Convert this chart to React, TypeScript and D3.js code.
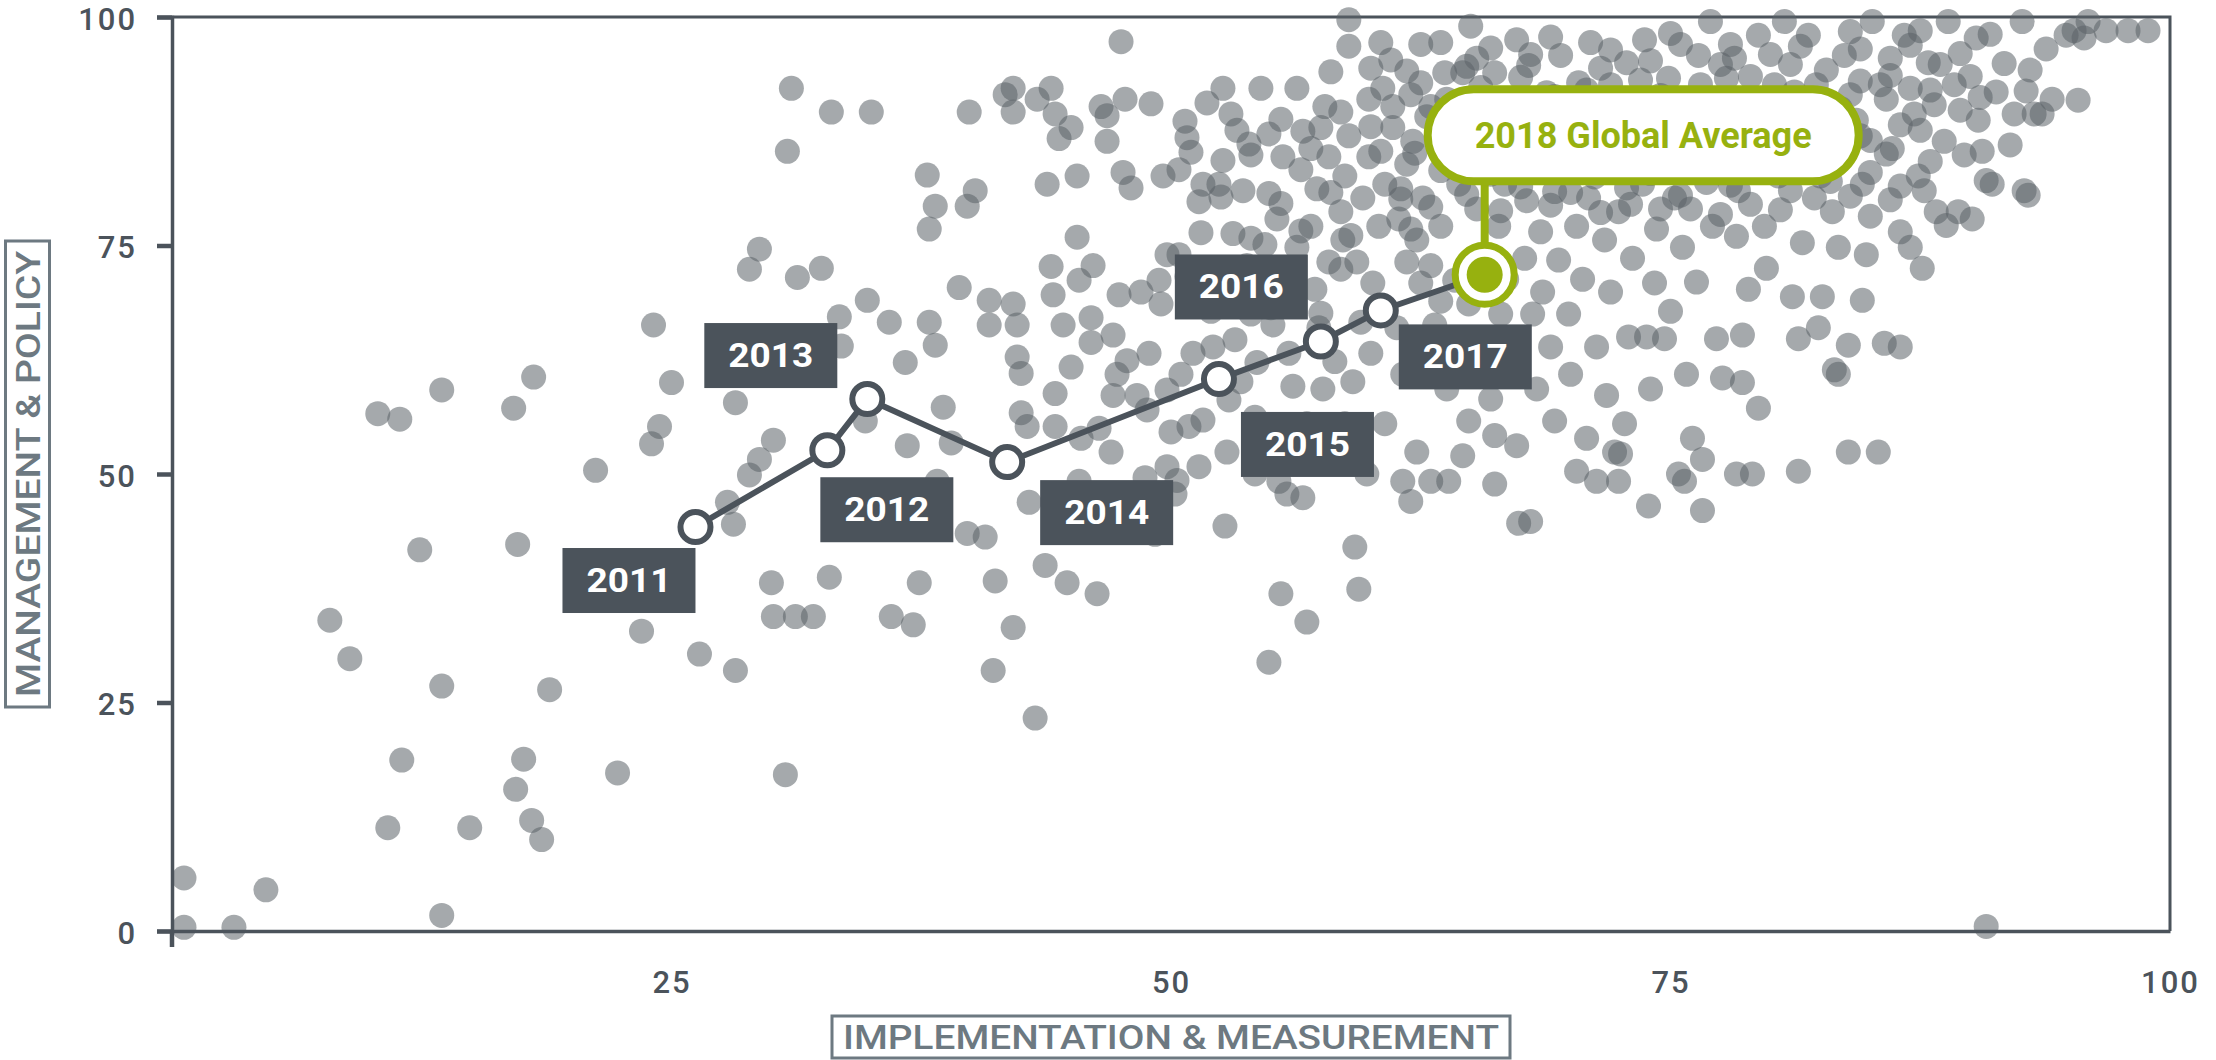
import { useEffect, useRef } from 'react';
import * as d3 from 'd3';

const WIDTH = 2216;
const HEIGHT = 1060;

// [implementation & measurement, management & policy]
const scores: [number, number][] = [
  [0.6, 5.8], [0.6, 0.4], [3.1, 0.4], [4.7, 4.5], [7.9, 34.0], [8.9, 29.8], [10.3, 56.6], [11.4, 56.0],
  [10.8, 11.3], [11.5, 18.7], [12.4, 41.7], [13.5, 59.2], [13.5, 26.8], [13.5, 1.7], [14.9, 11.3],
  [17.1, 57.2], [17.3, 42.3], [17.2, 15.5], [17.6, 18.8], [18.0, 12.1], [18.5, 10.0], [18.1, 60.6],
  [18.9, 26.4], [21.2, 50.4], [22.3, 17.3], [23.5, 32.8], [24.0, 53.3], [24.1, 66.3], [24.4, 55.2],
  [25.0, 60.0], [26.4, 30.3], [27.8, 46.9], [28.1, 44.5], [28.2, 28.5], [28.2, 57.8], [28.9, 72.4],
  [29.4, 74.6], [28.9, 49.9], [29.4, 51.6], [30.0, 38.1], [30.1, 34.4], [30.1, 53.7], [30.7, 17.1],
  [31.0, 92.2], [30.8, 85.3], [31.2, 34.4], [31.3, 71.5], [32.1, 34.4], [32.5, 72.5], [32.9, 38.7],
  [33.0, 89.6], [33.4, 67.2], [33.5, 64.0], [35.0, 89.6], [34.8, 69.0], [34.7, 55.8], [35.9, 66.6],
  [36.0, 34.4], [36.7, 62.2], [36.8, 53.1], [37.1, 33.5], [37.4, 38.1], [37.8, 82.7], [37.9, 76.8],
  [37.9, 66.6], [38.2, 79.3], [38.2, 64.1], [38.3, 49.2], [38.6, 57.3], [39.0, 53.4], [39.4, 70.4],
  [39.8, 79.3], [39.9, 89.6], [40.2, 81.0], [39.8, 43.5], [40.7, 43.1], [40.9, 69.0], [40.9, 66.3],
  [41.1, 28.5], [41.2, 38.3], [41.7, 91.5], [42.1, 92.2], [42.1, 89.6], [42.1, 68.6], [42.3, 66.3],
  [42.3, 62.8], [42.5, 61.0], [42.1, 33.2], [42.5, 56.7], [42.8, 55.2], [42.9, 46.9], [43.2, 23.3],
  [43.3, 91.0], [43.7, 40.0], [43.8, 81.7], [44.0, 92.2], [44.0, 72.7], [44.2, 89.4], [44.1, 69.6],
  [44.2, 55.2], [44.2, 58.8], [44.4, 86.7], [44.6, 66.3], [44.8, 38.1], [45.0, 87.9], [45.0, 61.7],
  [45.3, 82.6], [45.3, 75.9], [45.4, 71.2], [45.4, 49.2], [45.5, 53.9], [46.0, 64.4], [46.0, 67.1],
  [46.1, 72.8], [46.3, 36.9], [46.4, 55.0], [46.5, 90.2], [46.8, 86.4], [46.8, 89.2], [47.1, 58.6],
  [47.0, 52.4], [47.1, 65.2], [47.3, 60.9], [47.4, 69.6], [47.5, 97.3], [47.6, 83.0], [47.7, 91.0],
  [47.8, 62.4], [48.0, 81.3], [48.3, 58.6], [48.5, 69.9], [48.8, 57.0], [48.7, 49.6], [48.9, 63.2],
  [49.2, 43.4], [49.0, 90.5], [49.4, 71.2], [49.5, 68.6], [49.6, 82.6], [49.8, 74.0], [49.8, 59.2],
  [49.8, 50.8], [50.0, 54.6], [50.2, 47.8], [50.3, 49.3], [50.4, 74.0], [50.4, 83.3], [50.5, 60.9],
  [50.7, 88.6], [50.8, 86.8], [50.8, 71.6], [50.9, 55.2], [51.1, 63.2], [51.4, 79.8], [51.4, 50.8],
  [51.6, 55.9], [51.6, 81.7], [51.8, 90.6], [52.0, 67.8], [52.1, 63.9], [52.4, 81.7], [52.6, 92.2],
  [52.6, 84.3], [52.8, 52.4], [52.7, 44.3], [52.9, 58.1], [53.0, 69.6], [53.1, 76.3], [53.2, 64.7],
  [53.3, 87.6], [53.5, 60.1], [53.6, 81.0], [53.8, 72.8], [53.9, 86.1], [54.0, 67.5], [54.2, 56.2],
  [54.2, 50.0], [54.3, 62.2], [54.5, 92.2], [54.7, 75.1], [54.9, 80.7], [54.9, 29.4], [54.9, 87.2],
  [55.1, 66.3], [55.3, 77.9], [55.4, 49.2], [55.5, 36.9], [55.6, 84.7], [55.8, 47.8], [55.8, 70.9],
  [55.9, 63.2], [56.1, 59.6], [56.3, 92.2], [56.3, 74.8], [56.5, 83.3], [56.6, 87.5], [56.6, 47.4],
  [56.8, 33.8], [56.8, 55.5], [57.0, 77.1], [57.2, 70.2], [57.3, 81.2], [57.4, 66.0], [57.5, 87.9],
  [57.6, 59.3], [57.7, 90.2], [57.9, 84.7], [57.9, 73.2], [58.1, 51.3], [58.2, 62.3], [58.5, 78.7],
  [58.6, 75.6], [58.7, 82.6], [58.7, 55.5], [58.9, 99.7], [58.9, 96.8], [58.9, 87.0], [59.1, 60.1],
  [59.2, 42.0], [59.3, 73.2], [59.4, 37.4], [59.5, 66.6], [59.6, 80.2], [59.8, 50.0], [59.9, 84.7],
  [59.9, 91.0], [60.0, 94.4], [60.0, 63.2], [60.1, 70.9], [60.4, 77.1], [60.5, 97.2], [60.6, 92.2],
  [60.7, 81.7], [60.7, 55.5], [61.1, 87.9], [61.1, 90.2], [61.3, 66.0], [61.4, 77.9], [61.6, 49.2],
  [61.6, 60.9], [61.8, 83.9], [61.8, 73.2], [61.8, 94.1], [62.0, 47.0], [62.1, 86.4], [62.3, 75.6],
  [62.3, 52.4], [62.5, 70.9], [62.6, 80.2], [63.0, 90.2], [63.0, 49.2], [63.2, 66.3], [63.5, 77.1],
  [63.7, 93.9], [63.7, 84.7], [63.8, 59.3], [63.9, 49.2], [64.2, 71.2], [64.4, 81.7], [64.6, 93.9],
  [64.9, 68.6], [64.9, 55.8], [65.3, 79.0], [65.3, 95.5], [65.6, 64.4], [66.0, 58.2], [66.2, 93.9],
  [66.2, 48.9], [66.4, 77.1], [66.5, 67.5], [66.7, 81.7], [66.8, 71.3], [66.9, 86.4], [67.1, 61.6],
  [67.3, 53.1], [67.3, 97.5], [67.4, 44.6], [67.7, 73.6], [67.8, 79.9], [67.9, 94.7], [68.1, 67.5],
  [68.3, 59.3], [68.5, 84.4], [68.5, 76.5], [68.6, 69.9], [68.8, 91.7], [69.0, 63.9], [69.2, 55.8],
  [69.2, 80.9], [69.4, 73.4], [69.5, 95.8], [69.8, 86.4], [69.9, 67.5], [70.0, 60.9], [70.3, 77.1],
  [70.3, 50.3], [70.4, 92.8], [70.6, 71.3], [70.8, 53.9], [70.9, 80.2], [71.0, 97.2], [71.1, 88.3],
  [71.3, 49.2], [71.3, 63.9], [71.5, 83.3], [71.7, 75.6], [71.8, 58.6], [72.0, 92.6], [72.0, 69.9],
  [72.2, 52.4], [72.4, 78.7], [72.4, 49.2], [72.6, 86.4], [72.7, 55.5], [72.9, 65.0], [73.1, 73.6],
  [73.2, 90.2], [73.6, 81.7], [73.7, 97.5], [73.8, 65.0], [73.9, 46.5], [74.0, 59.3], [74.2, 70.9],
  [74.3, 76.8], [74.5, 86.4], [74.7, 64.8], [74.9, 93.3], [75.0, 67.8], [75.2, 80.2], [75.4, 50.0],
  [75.6, 74.8], [75.7, 49.2], [75.8, 60.9], [75.9, 88.7], [76.1, 53.9], [76.3, 71.0], [76.4, 95.8],
  [76.6, 51.6], [76.7, 83.3], [77.0, 99.5], [77.1, 77.1], [77.3, 64.8], [77.6, 60.5], [77.7, 87.2],
  [77.8, 93.3], [78.3, 76.0], [78.3, 50.0], [78.4, 81.0], [78.6, 65.2], [78.9, 70.2], [79.1, 50.0],
  [79.3, 86.4], [79.4, 57.2], [79.4, 98.0], [79.7, 77.1], [79.8, 72.5], [80.2, 92.6], [80.4, 82.6],
  [80.7, 99.5], [80.9, 87.2], [81.1, 69.4], [81.4, 64.8], [81.4, 50.3], [81.6, 75.3], [81.9, 98.0],
  [82.2, 80.2], [82.3, 92.6], [82.4, 66.0], [82.6, 69.4], [83.0, 84.9], [83.1, 78.7], [83.4, 60.9],
  [83.4, 74.8], [83.7, 95.8], [83.9, 64.1], [83.9, 52.4], [84.3, 88.7], [84.6, 81.7], [84.8, 74.0],
  [85.1, 99.5], [85.5, 92.6], [85.7, 64.3], [86.1, 85.6], [86.5, 76.5], [86.7, 98.0], [87.0, 74.8],
  [87.2, 89.4], [87.4, 82.6], [87.6, 72.5], [87.7, 81.0], [87.9, 95.0], [88.3, 78.7], [88.7, 86.4],
  [88.9, 99.5], [89.2, 92.6], [89.4, 78.7], [89.7, 84.9], [90.1, 77.9], [90.3, 97.7], [90.4, 88.7],
  [90.8, 0.5], [90.8, 82.1], [91.1, 81.7], [91.3, 91.8], [91.7, 94.9], [92.2, 89.4], [92.6, 99.5],
  [92.7, 81.0], [92.9, 80.5], [93.2, 89.4], [93.6, 89.4], [94.1, 91.0], [94.8, 98.0], [95.2, 98.5],
  [95.4, 90.9], [95.7, 97.7], [95.9, 99.5], [96.8, 98.5], [97.9, 98.5], [98.9, 98.5],
  [68.0, 44.8], [66.2, 54.2], [64.6, 52.0], [72.5, 52.2], [76.6, 46.0], [78.6, 60.0], [83.2, 61.4],
  [86.5, 63.9], [85.4, 52.4], [84.6, 69.0], [88.8, 77.2], [90.6, 85.3], [92.0, 86.0], [66.8, 88.6],
  [68.0, 89.8], [70.0, 91.0], [72.8, 95.0], [75.5, 97.0], [78.2, 95.5], [81.0, 94.8], [84.0, 91.5],
  [86.0, 95.5], [88.0, 92.0], [90.0, 93.5], [76.0, 91.0], [79.0, 90.0], [82.0, 88.0], [85.0, 86.5],
  [74.0, 84.0], [77.0, 85.0], [80.0, 84.0], [83.0, 82.0], [86.0, 80.0], [70.0, 84.5], [66.0, 90.5],
  [64.0, 88.0], [62.0, 91.5], [60.0, 88.0], [58.0, 94.0], [73.0, 79.5], [76.0, 79.0], [79.0, 79.5],
  [81.5, 85.0], [84.5, 96.5], [87.5, 98.5], [89.5, 96.0], [93.8, 96.5], [62.5, 97.0], [65.0, 99.0],
  // densest block, upper right
  [63.5, 97.2], [66.0, 96.6], [69.0, 97.8], [72.0, 96.4], [75.0, 98.2], [78.0, 97.0], [81.5, 96.8],
  [84.0, 98.4], [87.0, 96.9], [91.0, 98.1], [61.0, 95.3], [64.8, 94.6], [68.0, 95.9], [71.5, 94.4],
  [74.0, 95.2], [77.5, 94.8], [80.0, 95.9], [82.8, 94.2], [86.0, 93.6], [88.5, 94.8], [93.0, 94.2],
  [62.5, 92.8], [65.5, 92.3], [67.5, 93.4], [70.8, 92.0], [73.5, 93.1], [76.5, 92.6], [79.0, 93.5],
  [81.2, 91.8], [84.5, 93.0], [87.0, 92.2], [90.5, 91.2], [63.8, 91.0], [66.5, 90.4], [69.2, 91.3],
  [71.8, 90.6], [74.5, 91.4], [77.2, 90.2], [80.5, 90.8], [83.5, 90.0], [85.8, 91.0], [88.2, 90.4],
  [92.8, 91.9], [62.8, 89.1], [65.3, 88.4], [67.2, 89.3], [70.0, 88.8], [72.5, 89.5], [75.5, 88.3],
  [78.5, 89.2], [81.0, 88.6], [83.2, 89.0], [86.5, 88.2], [89.5, 89.8], [64.0, 87.2], [66.5, 86.8],
  [68.8, 87.6], [71.5, 86.9], [73.8, 87.4], [76.2, 86.6], [79.0, 87.9], [82.0, 86.4], [84.5, 87.0],
  [87.5, 87.6], [62.2, 85.1], [65.0, 84.6], [67.5, 85.4], [70.2, 85.9], [72.8, 84.8], [75.2, 85.6],
  [77.8, 84.2], [80.5, 85.3], [83.0, 84.4], [85.8, 85.0], [88.0, 84.2], [63.5, 83.2], [66.0, 82.8],
  [68.5, 83.4], [71.2, 82.5], [74.0, 82.9], [76.8, 81.9], [79.5, 83.1], [82.5, 82.6], [85.0, 83.0],
  [61.5, 81.2], [64.8, 80.6], [67.5, 81.4], [70.0, 80.8], [72.8, 81.3], [75.5, 80.5], [78.0, 81.6],
  [81.0, 81.0], [84.0, 80.4], [86.5, 81.5], [63.0, 79.2], [66.5, 78.8], [69.0, 79.4], [71.5, 78.6],
  [74.5, 79.0], [77.5, 78.4], [80.5, 78.9], [85.0, 78.2],
  // middle band
  [53.0, 89.4], [55.5, 88.8], [58.5, 89.6], [51.0, 85.2], [54.0, 84.9], [57.0, 85.6], [60.5, 85.3],
  [52.5, 80.3], [55.5, 79.6], [58.0, 80.8], [61.5, 80.1], [51.5, 76.4], [54.0, 75.8], [56.5, 76.6],
  [59.0, 76.1], [62.0, 76.8], [53.0, 72.2], [56.0, 71.6], [58.5, 72.4], [63.0, 72.8], [55.0, 68.2],
  [57.5, 67.6], [60.5, 68.4], [63.5, 68.9],
];

const years = ['2011', '2012', '2013', '2014', '2015', '2016', '2017', '2018'];
const avgImplementation = [26.2, 32.8, 34.8, 41.8, 52.4, 57.5, 60.5, 65.7];
const avgManagement = [44.2, 52.6, 58.2, 51.3, 60.4, 64.5, 67.9, 71.8];

const yTicks = [0, 25, 50, 75, 100];
const xTicks = [25, 50, 75, 100];

const DARK = '#4b535b';
const GREEN = '#97b10f';
const TITLE = '#6d7981';
const FONT = 'Roboto, Liberation Sans, Arial, sans-serif';

// box offsets (top-left corner) from each year point, in px
const labelOffsets = [[-133, 21], [-7, 27], [-163, -76], [33, 18], [22, 33], [-146, -87], [18, 14]];

export default function App() {
  const svgRef = useRef<SVGSVGElement>(null);

  useEffect(() => {
    if (!svgRef.current) return;
    const svg = d3.select(svgRef.current);
    svg.selectAll('*').remove();

    const x = d3.scaleLinear().domain([0, 100]).range([172, 2170]);
    const y = d3.scaleLinear().domain([0, 100]).range([931, 17]);

    // frame
    svg.append('path')
      .attr('d', `M${x(0)},${y(100)}H${x(100)}V${y(0)}`)
      .attr('fill', 'none').attr('stroke', DARK).attr('stroke-width', 3);

    // scatter
    svg.append('g').selectAll('circle')
      .data(scores)
      .enter()
      .append('circle')
      .attr('cx', (d) => x(d[0]))
      .attr('cy', (d) => y(d[1]))
      .attr('r', 12.5)
      .attr('fill', '#5b6367')
      .attr('fill-opacity', 0.55);

    // axes
    const yAxis = svg.append('g').attr('transform', `translate(${x(0)},0)`)
      .call(d3.axisLeft(y).tickValues(yTicks).tickSize(15).tickPadding(20));
    const xAxis = svg.append('g').attr('transform', `translate(0,${y(0)})`)
      .call(d3.axisBottom(x).tickValues(xTicks).tickSize(0).tickSizeOuter(0).tickPadding(40));
    [yAxis, xAxis].forEach((a) => {
      a.select('.domain').attr('stroke', DARK).attr('stroke-width', 3.5);
      a.selectAll('.tick line').attr('stroke', DARK).attr('stroke-width', 4.5);
      a.selectAll('.tick text')
        .attr('fill', DARK)
        .style('font-family', FONT)
        .style('font-weight', 500)
        .style('font-size', '31px')
        .style('letter-spacing', '2px');
    });
    yAxis.selectAll('.tick text').attr('dy', '0.4em');
    svg.append('line')
      .attr('x1', x(0)).attr('x2', x(0)).attr('y1', y(0)).attr('y2', y(0) + 16)
      .attr('stroke', DARK).attr('stroke-width', 4.5);

    // yearly global averages
    const pts = years.map((yr, i) => ({ yr, px: x(avgImplementation[i]), py: y(avgManagement[i]) }));
    svg.append('path')
      .datum(pts)
      .attr('d', d3.line<any>().x((d) => d.px).y((d) => d.py))
      .attr('fill', 'none')
      .attr('stroke', DARK)
      .attr('stroke-width', 6);

    const labels = svg.append('g');
    pts.slice(0, 7).forEach((p, i) => {
      const [dx, dy] = labelOffsets[i];
      labels.append('rect')
        .attr('x', p.px + dx).attr('y', p.py + dy)
        .attr('width', 133).attr('height', 65)
        .attr('fill', DARK);
      labels.append('text')
        .attr('x', p.px + dx + 66.5).attr('y', p.py + dy + 44)
        .attr('text-anchor', 'middle')
        .attr('fill', '#fff')
        .attr('textLength', 85)
        .attr('lengthAdjust', 'spacingAndGlyphs')
        .style('font-family', FONT)
        .style('font-weight', 'bold')
        .style('font-size', '33px')
        .text(p.yr);
      svg.append('circle')
        .attr('cx', p.px).attr('cy', p.py).attr('r', 15)
        .attr('fill', '#fff').attr('stroke', DARK).attr('stroke-width', 6);
    });

    // 2018 callout
    const last = pts[7];
    svg.append('line')
      .attr('x1', last.px).attr('x2', last.px)
      .attr('y1', last.py - 90).attr('y2', last.py - 30)
      .attr('stroke', GREEN).attr('stroke-width', 8);
    svg.append('rect')
      .attr('x', last.px - 57).attr('y', last.py - 185.5)
      .attr('width', 431).attr('height', 92).attr('rx', 46)
      .attr('fill', '#fff').attr('stroke', GREEN).attr('stroke-width', 8);
    svg.append('text')
      .attr('x', last.px - 57 + 215.5).attr('y', last.py - 185.5 + 59)
      .attr('text-anchor', 'middle')
      .attr('fill', GREEN)
      .attr('textLength', 337)
      .attr('lengthAdjust', 'spacingAndGlyphs')
      .style('font-family', FONT)
      .style('font-weight', 'bold')
      .style('font-size', '37px')
      .text(`${last.yr} Global Average`);
    svg.append('circle')
      .attr('cx', last.px).attr('cy', last.py).attr('r', 29.5)
      .attr('fill', '#fff').attr('stroke', GREEN).attr('stroke-width', 7);
    svg.append('circle')
      .attr('cx', last.px).attr('cy', last.py).attr('r', 18)
      .attr('fill', GREEN);

    // axis titles
    const xt = svg.append('g').attr('transform', `translate(${(x(0) + x(100)) / 2},1037)`);
    xt.append('rect').attr('x', -339).attr('y', -21).attr('width', 678).attr('height', 42)
      .attr('fill', '#fff').attr('stroke', TITLE).attr('stroke-width', 3);
    xt.append('text').attr('y', 12).attr('text-anchor', 'middle').attr('fill', TITLE)
      .attr('textLength', 656).attr('lengthAdjust', 'spacingAndGlyphs')
      .style('font-family', FONT).style('font-weight', 500).style('font-size', '33px')
      .text('IMPLEMENTATION & MEASUREMENT');

    const yt = svg.append('g').attr('transform', `translate(27.5,${(y(0) + y(100)) / 2}) rotate(-90)`);
    yt.append('rect').attr('x', -233).attr('y', -22).attr('width', 466).attr('height', 44)
      .attr('fill', '#fff').attr('stroke', TITLE).attr('stroke-width', 3);
    yt.append('text').attr('y', 12).attr('text-anchor', 'middle').attr('fill', TITLE)
      .attr('textLength', 446).attr('lengthAdjust', 'spacingAndGlyphs')
      .style('font-family', FONT).style('font-weight', 500).style('font-size', '33px')
      .text('MANAGEMENT & POLICY');
  }, []);

  return (
    <svg
      ref={svgRef}
      width={WIDTH}
      height={HEIGHT}
      style={{ position: 'absolute', left: 0, top: 0, background: '#fff' }}
    />
  );
}
